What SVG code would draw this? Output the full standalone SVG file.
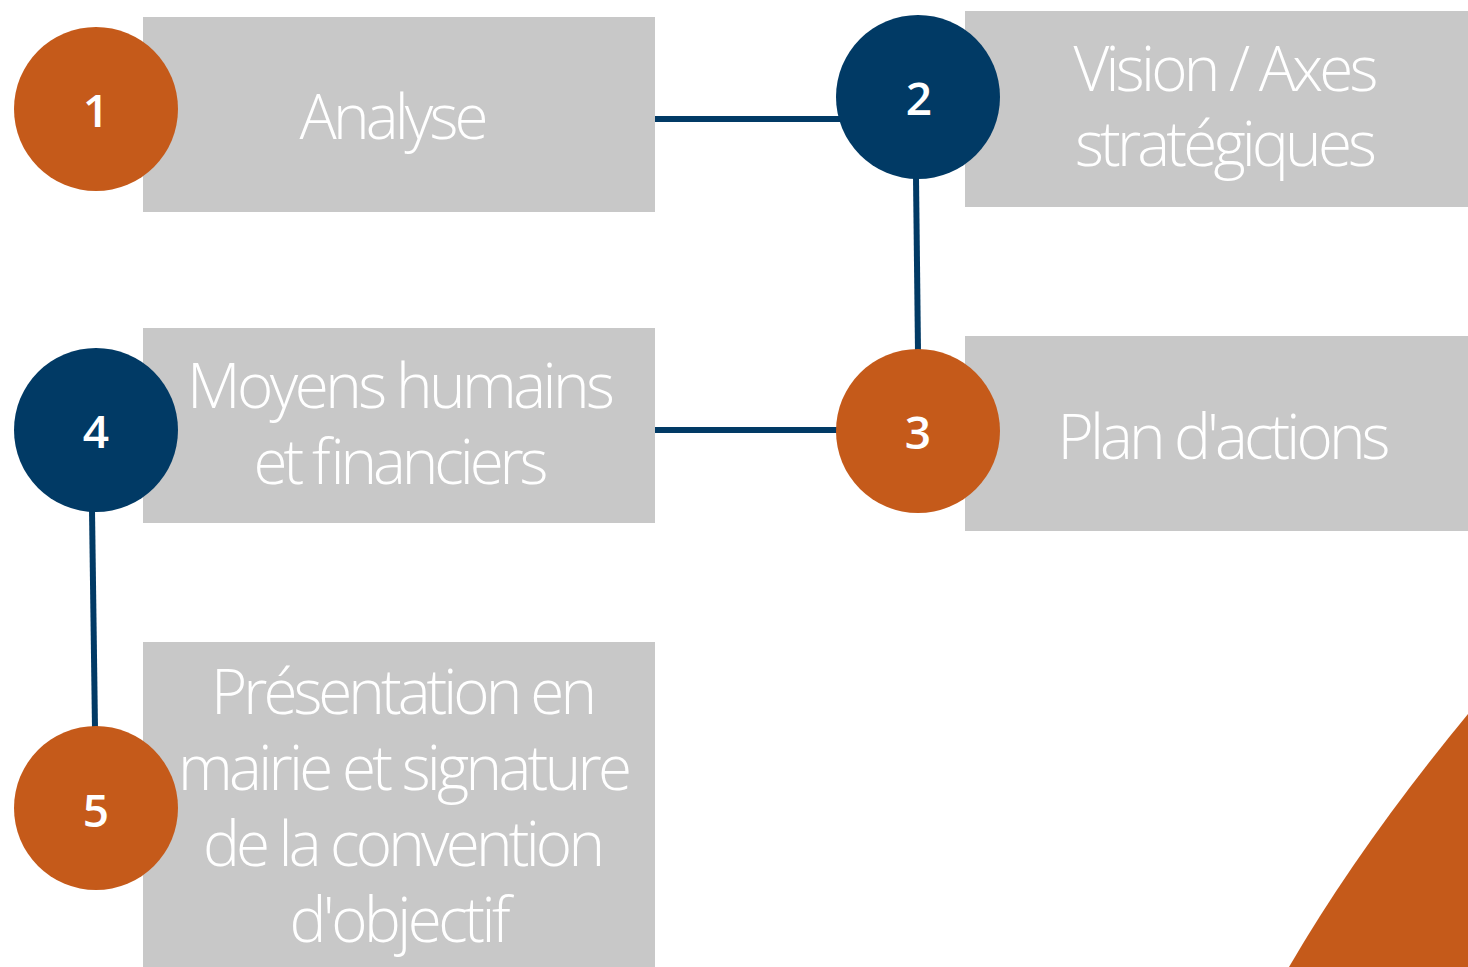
<svg xmlns="http://www.w3.org/2000/svg" width="1468" height="967" viewBox="0 0 1468 967">
<style>
.box{fill:#c8c8c8}
.o{fill:#c55a1a}
.b{fill:#013a65}
.lbl{font-family:"Open Sans","Liberation Sans",sans-serif;font-weight:300;font-size:62px;fill:#ffffff;text-anchor:middle}
.num{font-family:"Open Sans","Liberation Sans",sans-serif;font-weight:600;font-size:46px;fill:#ffffff;text-anchor:middle}
.ln{stroke:#013a65;stroke-width:6;fill:none}
</style>
<rect width="1468" height="967" fill="#ffffff"/>
<path class="o" d="M1468,714 Q1360,845 1289,967 L1468,967 Z"/>
<g id="connectors">
<line class="ln" x1="655" y1="119" x2="840" y2="119"/>
<line class="ln" x1="916" y1="177" x2="918" y2="351"/>
<line class="ln" x1="655" y1="430" x2="838" y2="430"/>
<line class="ln" x1="92" y1="510" x2="95" y2="729"/>
</g>
<g id="node1">
<rect class="box" x="143" y="17" width="512" height="195"/>
<circle class="o" cx="96" cy="109" r="82"/>
<text class="num" x="96" y="127">1</text>
<text class="lbl" x="394" y="139" textLength="189">Analyse</text>
</g>
<g id="node2">
<rect class="box" x="965" y="11" width="503" height="196"/>
<circle class="b" cx="918" cy="97" r="82"/>
<text class="num" x="919" y="115">2</text>
<text class="lbl" x="1226" y="91" textLength="305">Vision / Axes</text>
<text class="lbl" x="1226" y="166" textLength="302">stratégiques</text>
</g>
<g id="node3">
<rect class="box" x="965" y="336" width="503" height="195"/>
<circle class="o" cx="918" cy="431" r="82"/>
<text class="num" x="918" y="449">3</text>
<text class="lbl" x="1224" y="459" textLength="333">Plan d'actions</text>
</g>
<g id="node4">
<rect class="box" x="143" y="328" width="512" height="195"/>
<circle class="b" cx="96" cy="430" r="82"/>
<text class="num" x="96" y="448">4</text>
<text class="lbl" x="401" y="408" textLength="428">Moyens humains</text>
<text class="lbl" x="401" y="484" textLength="295">et financiers</text>
</g>
<g id="node5">
<rect class="box" x="143" y="642" width="512" height="325"/>
<circle class="o" cx="96" cy="808" r="82"/>
<text class="num" x="96" y="827">5</text>
<text class="lbl" x="404" y="714" textLength="386">Présentation en</text>
<text class="lbl" x="405" y="790" textLength="454">mairie et signature</text>
<text class="lbl" x="404" y="866" textLength="402">de la convention</text>
<text class="lbl" x="400" y="942" textLength="221">d'objectif</text>
</g>
</svg>
